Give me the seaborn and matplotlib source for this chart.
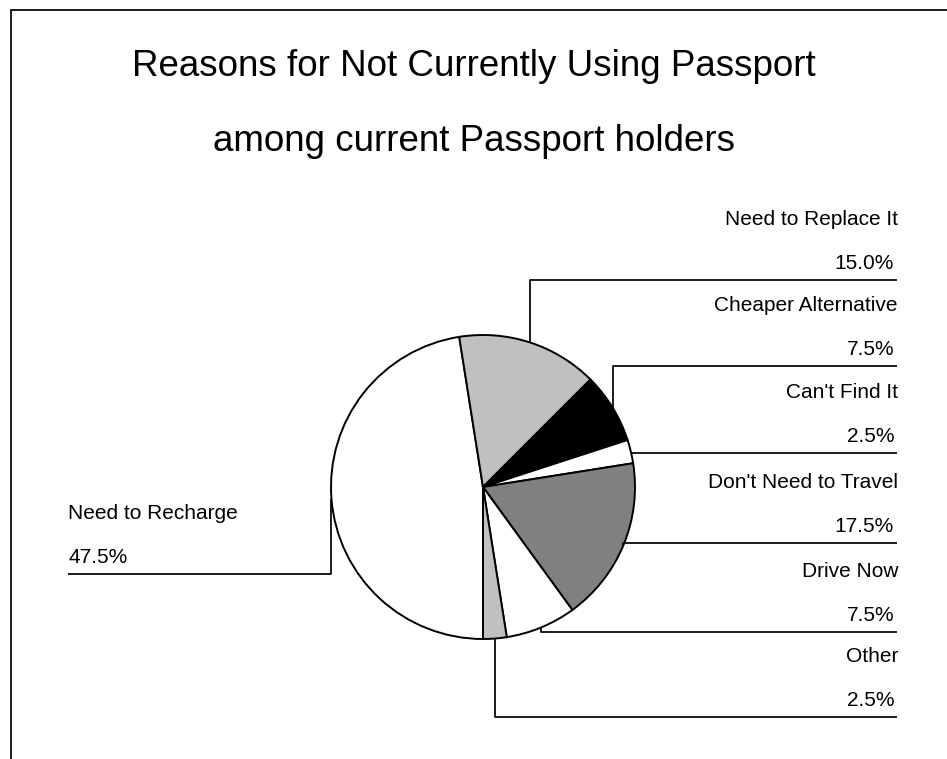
import numpy as np
import matplotlib
matplotlib.use("Agg")
import matplotlib.pyplot as plt
import seaborn as sns

# Survey shares (percent), in clockwise order starting at the bottom of the pie
reasons = ["Need to Recharge", "Need to Replace It", "Cheaper Alternative",
           "Can't Find It", "Don't Need to Travel", "Drive Now", "Other"]
shares = [47.5, 15.0, 7.5, 2.5, 17.5, 7.5, 2.5]
fills = ["#ffffff", "#c0c0c0", "#000000", "#ffffff", "#808080", "#ffffff", "#c0c0c0"]

title_lines = ["Reasons for Not Currently Using Passport",
               "among current Passport holders"]

sns.set_style("white")
plt.rcParams["font.family"] = ["Liberation Sans", "DejaVu Sans"]
plt.rcParams["text.color"] = "black"

W, H = 947, 759


def up(py):
    """Convert a y position measured from the top into axis units."""
    return H - py


fig = plt.figure(figsize=(W / 100, H / 100), dpi=100)
ax = fig.add_axes([0, 0, 1, 1])

cx, cy, r = 483, up(487), 152
wedges, _ = ax.pie(shares, colors=fills, startangle=-90, counterclock=False,
                   center=(cx, cy), radius=r,
                   wedgeprops=dict(edgecolor="black", linewidth=1.4))
ax.set_xlim(0, W)
ax.set_ylim(0, H)
ax.set_aspect("equal")
ax.axis("off")

# Label rows: underline heights (from top) for the left label and right stack
left_row = 574
right_rows = [280, 366, 453, 543, 632, 717]
left_x, right_x = 68, 897

line_kw = dict(color="black", linewidth=1.25, solid_capstyle="butt", clip_on=False)
text_kw = dict(fontsize=15, color="black", va="baseline")

rows = [left_row] + right_rows
for i, (w, name, val) in enumerate(zip(wedges, reasons, shares)):
    mid = np.deg2rad((w.theta1 + w.theta2) / 2)
    px, py = cx + r * np.cos(mid), cy + r * np.sin(mid)
    ly = up(rows[i])
    end_x = left_x if i == 0 else right_x
    ax.plot([px, px, end_x], [py, ly, ly], **line_kw)
    if i == 0:
        ax.text(left_x, ly + 55, name, ha="left", **text_kw)
        ax.text(left_x, ly + 11, f"{val:.1f}%", ha="left", **text_kw)
    else:
        ax.text(right_x + 1, ly + 55, name, ha="right", **text_kw)
        ax.text(right_x - 3, ly + 11, f"{val:.1f}%", ha="right", **text_kw)

# Title
ax.text(474, up(76), title_lines[0], ha="center", va="baseline",
        fontsize=26.5, color="black")
ax.text(474, up(151), title_lines[1], ha="center", va="baseline",
        fontsize=26.5, color="black")

# Frame along the top and left edges
ax.plot([11, 11, W], [0, up(9.5), up(9.5)], color="black", linewidth=1.25,
        clip_on=False, solid_joinstyle="miter")

fig.savefig("out.png", dpi=100, facecolor="white")
